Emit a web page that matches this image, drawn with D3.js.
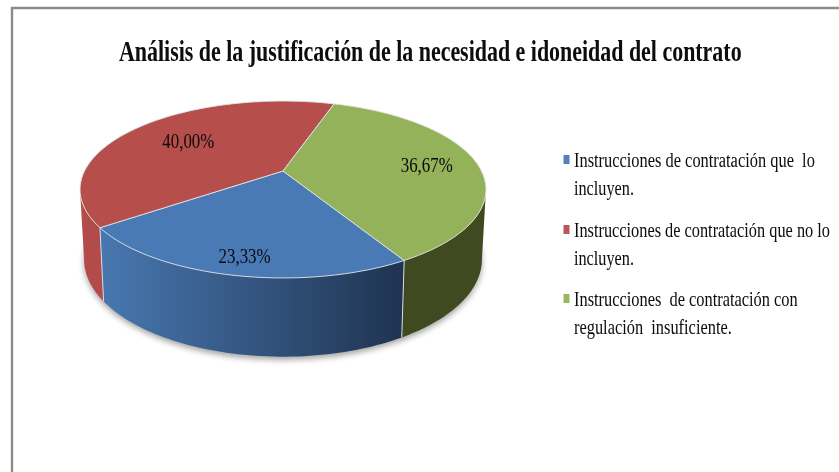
<!DOCTYPE html>
<html><head><meta charset="utf-8">
<script src="https://cdn.jsdelivr.net/npm/d3@7/dist/d3.min.js"></script>
<style>html,body{margin:0;padding:0;background:#fff}svg{display:block}text{font-family:"Liberation Serif",serif;fill:#0a0a0a;white-space:pre}</style>
</head><body><script>
const title = "Análisis de la justificación de la necesidad e idoneidad del contrato";
const categories = ["Instrucciones de contratación que lo incluyen.","Instrucciones de contratación que no lo incluyen.","Instrucciones de contratación con regulación insuficiente."];
const values = [23.33, 40.00, 36.67];
const valueLabels = ["23,33%","40,00%","36,67%"];
const legendLines = [["Instrucciones de contratación que  lo","incluyen."],["Instrucciones de contratación que no lo","incluyen."],["Instrucciones  de contratación con","regulación  insuficiente."]];
const topColors = ["#4a7ab5","#b64e4b","#94b25a"];
const sideColors = ["url(#blueSide)","#b24b49","#3f4a20"];

const W=839,H=472;
const svg=d3.select("body").append("svg").attr("width",W).attr("height",H);
const defs=svg.append("defs");
const g=defs.append("linearGradient").attr("id","blueSide").attr("gradientUnits","userSpaceOnUse").attr("x1",101).attr("x2",404).attr("y1",0).attr("y2",0);
g.append("stop").attr("offset",0).attr("stop-color","#4878b0");
g.append("stop").attr("offset",1).attr("stop-color","#1f3350");
defs.append("filter").attr("id","soft").attr("x","-10%").attr("y","-10%").attr("width","120%").attr("height","120%").append("feGaussianBlur").attr("stdDeviation",3);
defs.append("filter").attr("id","txt").attr("x","-5%").attr("y","-20%").attr("width","110%").attr("height","140%").append("feGaussianBlur").attr("stdDeviation",0.35);

// squeezes a text horizontally to a target width, keeping its real box
function fitText(x,y,s,size,width,bold){
  const t=svg.append("text").attr("font-size",size).attr("font-weight",bold?"bold":"normal").text(s);
  const len=t.node().getComputedTextLength();
  t.attr("transform",`translate(${x},${y}) scale(${width/len},1)`).attr("filter","url(#txt)");
  return t;
}

// frame
svg.append("path").attr("d","M12 472V8H839").attr("fill","none").attr("stroke","#8c8c8c").attr("stroke-width",2.4);

// title
fitText(119,61,title,30,623,true);

// pie geometry with perspective projection
const cx=283, cy=171, botCy=239, k=-0.209, a=84.6, b=198.5, botSx=0.98, botSy=1.1;
const rad=d3.scaleLinear().domain([0,360]).range([0,2*Math.PI]);
const pie=d3.pie().sort(null).startAngle(rad(150)).endAngle(rad(510));
const arcs=pie(values);
function proj(t,r=1){const u=r*Math.sin(t),v=-r*Math.cos(t),w=1+k*v;return [b*u/w,a*v/w];}
const topPt=(t,r=1)=>{const p=proj(t,r);return [cx+p[0],cy+p[1]];};
const botPt=t=>{const p=proj(t);return [cx+botSx*p[0],botCy+botSy*p[1]];};
const samples=(s,e)=>d3.range(0,61).map(i=>s+(e-s)*i/60);
const line=d3.line();

// outer soft shadow
const full=samples(0,2*Math.PI);
svg.append("path").attr("d",line(full.map(t=>{const p=botPt(t);return [p[0],p[1]+3];}))+"Z")
  .attr("fill","#000").attr("opacity",0.38).attr("filter","url(#soft)");

// side walls: only the part of each slice between the two silhouette angles faces the viewer
const wallFrom=rad(102), wallTo=rad(258);
[1,2,0].forEach(i=>{
  const d=arcs[i];
  [0,2*Math.PI].forEach(turn=>{
    const s=Math.max(d.startAngle-turn,wallFrom), e=Math.min(d.endAngle-turn,wallTo);
    if(e<=s) return;
    const ts=samples(s,e);
    svg.append("path").attr("d",line(ts.map(t=>topPt(t)).concat(ts.slice().reverse().map(botPt)))+"Z")
      .attr("fill",sideColors[i]);
  });
});
// light edges on the walls
arcs.forEach(d=>{
  if(Math.cos(d.endAngle)<0.5){
    svg.append("path").attr("d",line([topPt(d.endAngle),botPt(d.endAngle)])).attr("stroke","#d9dde2").attr("stroke-width",1).attr("fill","none");
  }
});
// top faces
arcs.forEach((d,i)=>{
  const ts=samples(d.startAngle,d.endAngle);
  svg.append("path").attr("d",line([[cx,cy]].concat(ts.map(t=>topPt(t))))+"Z")
    .attr("fill",topColors[i]).attr("stroke","#dfe3e6").attr("stroke-width",0.9).attr("stroke-linejoin","round");
});

// value labels
const labelR=[0.85,0.65,0.74], labelDx=[-22,-24,-26], labelDy=[7,7,7];
arcs.forEach((d,i)=>{
  const p=topPt((d.startAngle+d.endAngle)/2,labelR[i]);
  fitText(p[0]+labelDx[i],p[1]+labelDy[i],valueLabels[i],22,52,false);
});

// legend
const legendX=574, legendBase=[167,237,306], lineGap=28;
const lineLengths=[[241,60],[256,60],[224,158]];
legendLines.forEach((ls,i)=>{
  svg.append("rect").attr("x",563.5).attr("y",legendBase[i]-12).attr("width",6).attr("height",9).attr("fill",topColors[i]).attr("opacity",0.95);
  ls.forEach((s,j)=>fitText(legendX,legendBase[i]+j*lineGap,s,20,lineLengths[i][j],false));
});
</script></body></html>
